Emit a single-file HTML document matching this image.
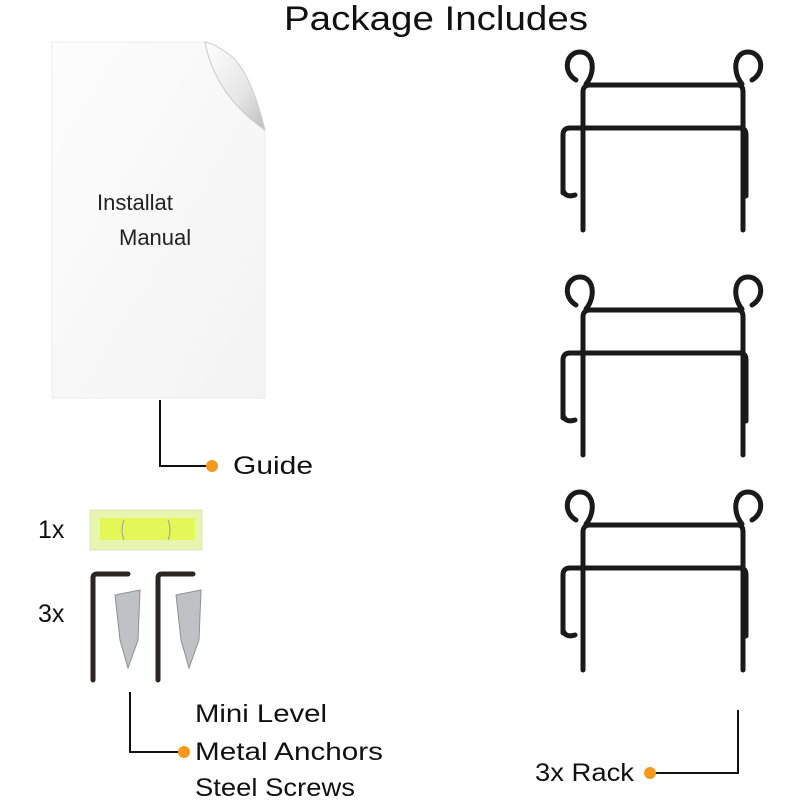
<!DOCTYPE html>
<html><head><style>
body{margin:0;width:800px;height:800px;background:#fff;overflow:hidden;font-family:"Liberation Sans",sans-serif}
</style></head><body>
<svg width="800" height="800" viewBox="0 0 800 800" xmlns="http://www.w3.org/2000/svg">
<defs>
<linearGradient id="pg" x1="0" y1="0" x2="1" y2="1"><stop offset="0" stop-color="#fdfdfd"/><stop offset="1" stop-color="#f3f3f3"/></linearGradient>
<linearGradient id="curl" x1="0" y1="0" x2="1" y2="1"><stop offset="0" stop-color="#fff"/><stop offset="0.6" stop-color="#e6e6e6"/><stop offset="1" stop-color="#bdbdbd"/></linearGradient>
<g id="rack" fill="none" stroke="#1a1a1a" stroke-width="5" stroke-linecap="round" stroke-linejoin="round">
<path d="M583 230 V92 Q583 85 590 85 H738 Q743 85 743 92 V230"/>
<path d="M576 80 C562 72 566 52 580 52 C594 52 596 72 586 84"/>
<path d="M752 80 C766 72 762 52 748 52 C734 52 732 72 742 84"/>
<path d="M563 193 V135 Q563 128 570 128 H740 Q746 128 746 135 V196"/>
<path d="M563 190 Q565 198 575 195"/>
</g>
</defs>
<text x="284" y="30" font-size="34" fill="#111" textLength="304" lengthAdjust="spacingAndGlyphs">Package Includes</text>
<path d="M52 42 H205 Q240 110 265 130 V398 H52 Z" fill="url(#pg)" stroke="#ececec"/>
<path d="M205 42 Q215 95 265 130 Q250 70 230 55 Q215 44 205 42 Z" fill="url(#curl)" stroke="#ccc"/>
<text x="97" y="210" font-size="22" fill="#222">Installat</text>
<text x="119" y="245" font-size="22" fill="#222">Manual</text>
<g fill="none" stroke="#111" stroke-width="2">
<path d="M160 400 V466 H210"/>
<path d="M130 692 V752 H182"/>
<path d="M738 710 V773 H652"/>
</g>
<g fill="#f39a1e"><circle cx="212" cy="466" r="6"/><circle cx="184" cy="752" r="6"/><circle cx="650" cy="773" r="6"/></g>
<g font-size="25" fill="#111" lengthAdjust="spacingAndGlyphs">
<text x="233" y="474" textLength="80" lengthAdjust="spacingAndGlyphs">Guide</text>
<text x="195" y="722" textLength="132" lengthAdjust="spacingAndGlyphs">Mini Level</text>
<text x="195" y="760" textLength="188" lengthAdjust="spacingAndGlyphs">Metal Anchors</text>
<text x="195" y="796" textLength="160" lengthAdjust="spacingAndGlyphs">Steel Screws</text>
<text x="535" y="781" textLength="99" lengthAdjust="spacingAndGlyphs">3x Rack</text>
<text x="38" y="538">1x</text>
<text x="38" y="622">3x</text>
</g>
<rect x="90" y="510" width="112" height="40" fill="#e8f5b0" stroke="#d9e4bd"/>
<rect x="100" y="518" width="95" height="22" fill="#e3f756"/>
<path d="M124 520 Q120 530 124 540 M168 520 Q172 530 168 540" stroke="#99a" fill="none"/>
<g fill="none" stroke="#2c2623" stroke-width="5" stroke-linecap="round">
<path d="M93 680 V578 Q93 574 97 574 H128"/>
<path d="M158 680 V578 Q158 574 162 574 H193"/>
</g>
<g fill="#bfc2c5" stroke="#8d9094">
<path d="M115 595 L140 590 L138 640 L128 668 L120 640 Z"/>
<path d="M176 595 L201 590 L199 640 L189 668 L181 640 Z"/>
</g>
<use href="#rack"/>
<use href="#rack" y="225"/>
<use href="#rack" y="440"/>
</svg>
</body></html>
